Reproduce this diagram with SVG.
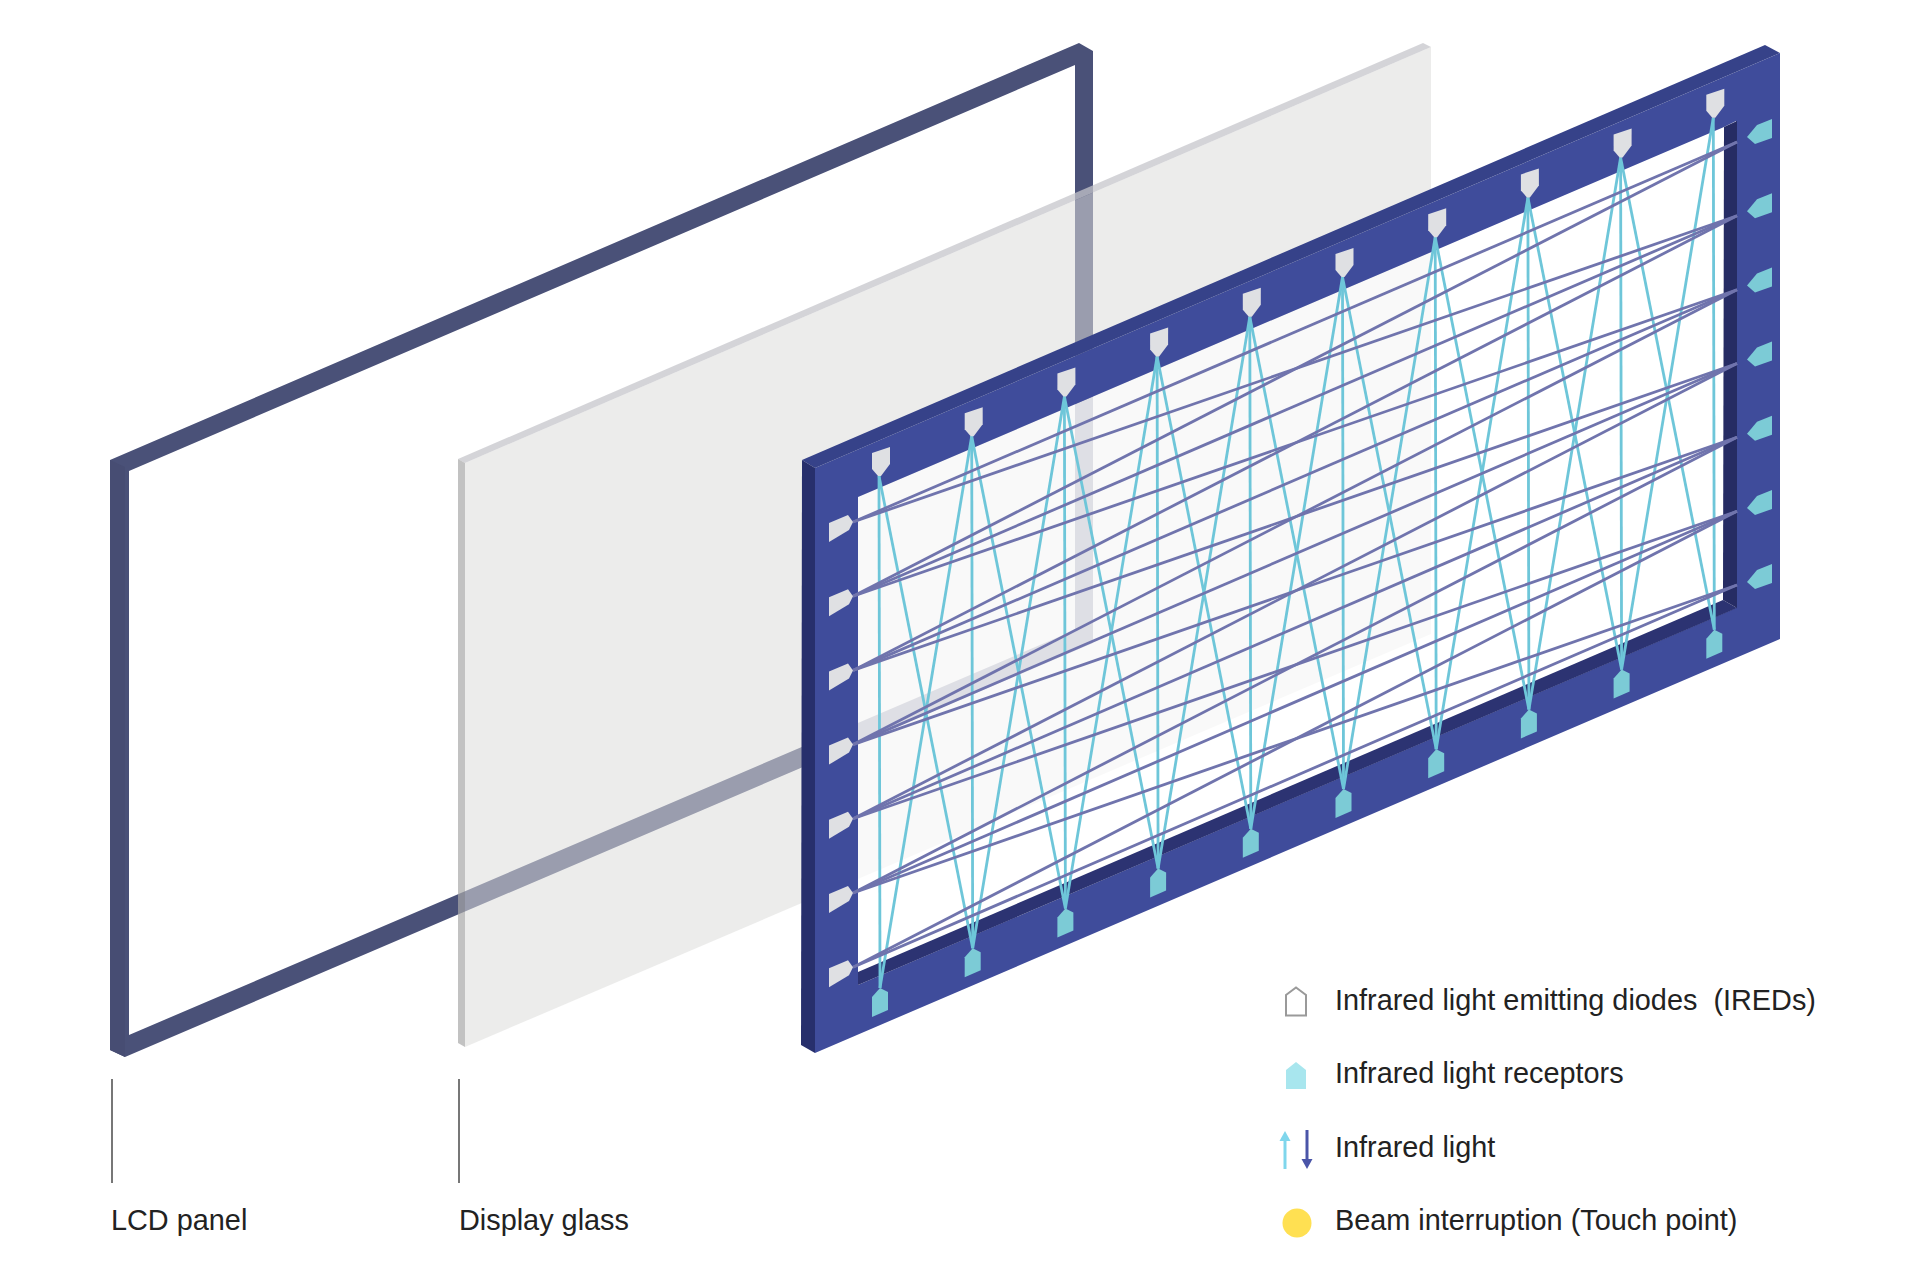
<svg xmlns="http://www.w3.org/2000/svg" width="1920" height="1280" viewBox="0 0 1920 1280">
<style>
text{font-family:"Liberation Sans",Arial,sans-serif;font-size:28.85px;fill:#222;white-space:pre}
.cy{stroke:#6ec6d9;stroke-width:2.8;fill:none}
.pu{stroke:#7074ad;stroke-width:2.8;fill:none}
.lead{stroke:#777;stroke-width:2;fill:none}
.ired{fill:#dfe0e3}
.recv{fill:#7ccbd6}
</style>
<defs>
<polygon id="emitTop" class="ired" points="-7,-23 11,-29 11,-12 2,0 -1,0 -7,-7"/>
<polygon id="recvBot" class="recv" points="-8,29 -8,9 0,0 8,4 8,22"/>
<polygon id="emitLeft" class="ired" points="-24,1 -5,-7 0,0 -4,8 -24,20"/>
<polygon id="recvRight" class="recv" points="0,0 10,-12 25,-18 25,1 8,7"/>
</defs>
<rect width="1920" height="1280" fill="#fff"/>

<g id="lcd-panel">
<path fill="#4a5178" fill-rule="evenodd" d="M110,460 L1079,43 L1093,51 V643 L125,1057 L110,1050 Z M129,471 V1035 L1075,630 V65 Z"/>
<polygon fill="#474d73" points="110,460 125,467 125,1057 110,1050"/>
</g>

<g id="display-glass">
<polygon fill="#dcdcda" fill-opacity="0.55" points="465,463 1431,47 1431,634 465,1047"/>
<polygon fill="#c6c6cb" fill-opacity="0.75" points="458,459 1423,43 1431,47 465,463"/>
<polygon fill="#a8a8a8" fill-opacity="0.7" points="458,459 465,463 465,1047 458,1043"/>
</g>

<g id="touch-frame">
<polygon fill="#fff" fill-opacity="0.68" points="858,497 1724,127 1723,600 858,972"/>
<path fill="#3f4c9b" fill-rule="evenodd" d="M815,468 L1780,53 V639 L815,1053 Z M858,497 V985 L1736,608 V121 L1724,127 Z"/>
<polygon fill="#364289" points="802,460 1765,45 1780,53 815,468"/>
<polygon fill="#272f6c" points="802,460 815,468 815,1053 801,1045"/>
<polygon fill="#2c3372" points="858,972 1723,600 1737,608 858,985"/>
<polygon fill="#262c64" points="1724,127 1737,121 1737,608 1723,600"/>
</g>

<g id="connectors">
<g id="receiver-beams">
<line class="cy" x1="879" y1="476" x2="880" y2="988"/>
<line class="cy" x1="879" y1="476" x2="972.7" y2="948.2"/>
<line class="cy" x1="971.7" y1="436.2" x2="880" y2="988"/>
<line class="cy" x1="971.7" y1="436.2" x2="972.7" y2="948.2"/>
<line class="cy" x1="971.7" y1="436.2" x2="1065.4" y2="908.4"/>
<line class="cy" x1="1064.4" y1="396.4" x2="972.7" y2="948.2"/>
<line class="cy" x1="1064.4" y1="396.4" x2="1065.4" y2="908.4"/>
<line class="cy" x1="1064.4" y1="396.4" x2="1158.1" y2="868.6"/>
<line class="cy" x1="1157.1" y1="356.6" x2="1065.4" y2="908.4"/>
<line class="cy" x1="1157.1" y1="356.6" x2="1158.1" y2="868.6"/>
<line class="cy" x1="1157.1" y1="356.6" x2="1250.8" y2="828.8"/>
<line class="cy" x1="1249.8" y1="316.8" x2="1158.1" y2="868.6"/>
<line class="cy" x1="1249.8" y1="316.8" x2="1250.8" y2="828.8"/>
<line class="cy" x1="1249.8" y1="316.8" x2="1343.5" y2="789"/>
<line class="cy" x1="1342.5" y1="277" x2="1250.8" y2="828.8"/>
<line class="cy" x1="1342.5" y1="277" x2="1343.5" y2="789"/>
<line class="cy" x1="1342.5" y1="277" x2="1436.2" y2="749.2"/>
<line class="cy" x1="1435.2" y1="237.2" x2="1343.5" y2="789"/>
<line class="cy" x1="1435.2" y1="237.2" x2="1436.2" y2="749.2"/>
<line class="cy" x1="1435.2" y1="237.2" x2="1528.9" y2="709.4"/>
<line class="cy" x1="1527.9" y1="197.4" x2="1436.2" y2="749.2"/>
<line class="cy" x1="1527.9" y1="197.4" x2="1528.9" y2="709.4"/>
<line class="cy" x1="1527.9" y1="197.4" x2="1621.6" y2="669.6"/>
<line class="cy" x1="1620.6" y1="157.6" x2="1528.9" y2="709.4"/>
<line class="cy" x1="1620.6" y1="157.6" x2="1621.6" y2="669.6"/>
<line class="cy" x1="1620.6" y1="157.6" x2="1714.3" y2="629.8"/>
<line class="cy" x1="1713.3" y1="117.8" x2="1621.6" y2="669.6"/>
<line class="cy" x1="1713.3" y1="117.8" x2="1714.3" y2="629.8"/>
</g>
<g id="emitter-beams">
<line class="pu" x1="853" y1="522" x2="1737" y2="142"/>
<line class="pu" x1="853" y1="522" x2="1737" y2="215.8"/>
<line class="pu" x1="853" y1="596.2" x2="1737" y2="142"/>
<line class="pu" x1="853" y1="596.2" x2="1737" y2="215.8"/>
<line class="pu" x1="853" y1="596.2" x2="1737" y2="289.7"/>
<line class="pu" x1="853" y1="670.4" x2="1737" y2="215.8"/>
<line class="pu" x1="853" y1="670.4" x2="1737" y2="289.7"/>
<line class="pu" x1="853" y1="670.4" x2="1737" y2="363.5"/>
<line class="pu" x1="853" y1="744.6" x2="1737" y2="289.7"/>
<line class="pu" x1="853" y1="744.6" x2="1737" y2="363.5"/>
<line class="pu" x1="853" y1="744.6" x2="1737" y2="437.3"/>
<line class="pu" x1="853" y1="818.8" x2="1737" y2="363.5"/>
<line class="pu" x1="853" y1="818.8" x2="1737" y2="437.3"/>
<line class="pu" x1="853" y1="818.8" x2="1737" y2="511.2"/>
<line class="pu" x1="853" y1="893" x2="1737" y2="437.3"/>
<line class="pu" x1="853" y1="893" x2="1737" y2="511.2"/>
<line class="pu" x1="853" y1="893" x2="1737" y2="585"/>
<line class="pu" x1="853" y1="967.2" x2="1737" y2="511.2"/>
<line class="pu" x1="853" y1="967.2" x2="1737" y2="585"/>
</g>
<line class="lead" x1="112" y1="1079" x2="112" y2="1183"/>
<line class="lead" x1="459" y1="1079" x2="459" y2="1183"/>
</g>

<g id="top-emitters">
<use href="#emitTop" x="879" y="476"/>
<use href="#emitTop" x="971.7" y="436.2"/>
<use href="#emitTop" x="1064.4" y="396.4"/>
<use href="#emitTop" x="1157.1" y="356.6"/>
<use href="#emitTop" x="1249.8" y="316.8"/>
<use href="#emitTop" x="1342.5" y="277"/>
<use href="#emitTop" x="1435.2" y="237.2"/>
<use href="#emitTop" x="1527.9" y="197.4"/>
<use href="#emitTop" x="1620.6" y="157.6"/>
<use href="#emitTop" x="1713.3" y="117.8"/>
</g>
<g id="bottom-receivers">
<use href="#recvBot" x="880" y="988"/>
<use href="#recvBot" x="972.7" y="948.2"/>
<use href="#recvBot" x="1065.4" y="908.4"/>
<use href="#recvBot" x="1158.1" y="868.6"/>
<use href="#recvBot" x="1250.8" y="828.8"/>
<use href="#recvBot" x="1343.5" y="789"/>
<use href="#recvBot" x="1436.2" y="749.2"/>
<use href="#recvBot" x="1528.9" y="709.4"/>
<use href="#recvBot" x="1621.6" y="669.6"/>
<use href="#recvBot" x="1714.3" y="629.8"/>
</g>
<g id="left-emitters">
<use href="#emitLeft" x="853" y="522"/>
<use href="#emitLeft" x="853" y="596.2"/>
<use href="#emitLeft" x="853" y="670.4"/>
<use href="#emitLeft" x="853" y="744.6"/>
<use href="#emitLeft" x="853" y="818.8"/>
<use href="#emitLeft" x="853" y="893"/>
<use href="#emitLeft" x="853" y="967.2"/>
</g>
<g id="right-receivers">
<use href="#recvRight" x="1747" y="137"/>
<use href="#recvRight" x="1747" y="211.2"/>
<use href="#recvRight" x="1747" y="285.4"/>
<use href="#recvRight" x="1747" y="359.6"/>
<use href="#recvRight" x="1747" y="433.8"/>
<use href="#recvRight" x="1747" y="508"/>
<use href="#recvRight" x="1747" y="582"/>
</g>

<g id="label-lcd"><text x="111" y="1230">LCD panel</text></g>
<g id="label-glass"><text x="459" y="1230">Display glass</text></g>

<g id="legend-ired">
<path d="M1286,1015.5 V995 L1296,987.5 L1306,995 V1015.5 Z" fill="#fff" stroke="#9a9a9a" stroke-width="2"/>
<text x="1335" y="1010">Infrared light emitting diodes  (IREDs)</text>
</g>
<g id="legend-receptor">
<path d="M1286,1089 V1070 L1296,1062 L1306,1070 V1089 Z" fill="#a8e6ee"/>
<text x="1335" y="1083">Infrared light receptors</text>
</g>
<g id="legend-light">
<path d="M1285,1169 V1140" stroke="#7fd6ec" stroke-width="3" fill="none"/>
<path d="M1285,1131 L1290.5,1141 H1279.5 Z" fill="#7fd6ec"/>
<path d="M1307,1130 V1160" stroke="#4a55a8" stroke-width="3" fill="none"/>
<path d="M1307,1169 L1301.5,1159 H1312.5 Z" fill="#4a55a8"/>
<text x="1335" y="1157">Infrared light</text>
</g>
<g id="legend-touch">
<circle cx="1297" cy="1223" r="14.5" fill="#ffe052"/>
<text x="1335" y="1230">Beam interruption (Touch point)</text>
</g>
</svg>
